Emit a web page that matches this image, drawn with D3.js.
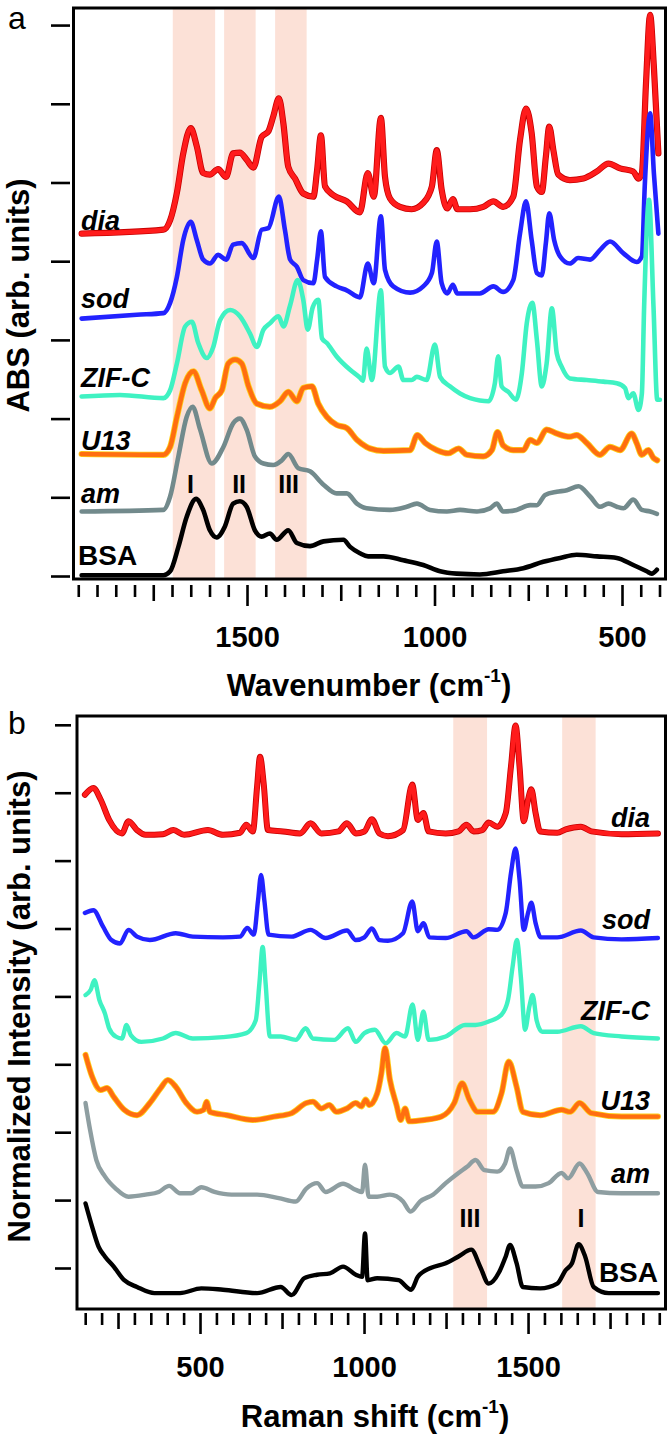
<!DOCTYPE html>
<html><head><meta charset="utf-8">
<script src="https://cdn.jsdelivr.net/npm/d3@7"></script>
<style>
body{margin:0;background:#fff}
svg{display:block}
text{font-family:"Liberation Sans",Arial,Helvetica,sans-serif}
</style>
</head><body>
<svg id="c" width="672" height="1437"></svg>
<script>
// ---------------- DATA: panel a (IR absorbance, offset stacked) ----------------
const irSeriesNames = ["dia", "sod", "ZIF-C", "U13", "am", "BSA"];
const irDia = [[1941,4.35],[1723,4.40],[1705,4.52],[1687,4.87],[1670,5.37],[1650,5.69],[1634,5.46],[1617,5.12],[1599,5.10],[1577,5.17],[1556,5.07],[1537,5.37],[1519,5.38],[1501,5.29],[1483,5.19],[1461,5.58],[1443,5.65],[1430,5.84],[1415,6.07],[1403,5.75],[1390,5.20],[1372,5.05],[1350,4.86],[1323,4.82],[1313,5.16],[1303,5.60],[1292,4.95],[1270,4.84],[1234,4.76],[1199,4.62],[1178,5.12],[1162,4.82],[1143,5.82],[1132,5.07],[1119,4.80],[1092,4.69],[1061,4.66],[1030,4.74],[1007,4.95],[994,5.41],[981,4.91],[966,4.67],[951,4.79],[939,4.66],[905,4.66],[870,4.69],[843,4.76],[817,4.69],[790,4.82],[772,5.54],[756,5.94],[741,5.63],[727,4.95],[714,4.88],[703,5.33],[694,5.71],[683,5.41],[670,5.10],[639,5.03],[603,5.05],[567,5.14],[536,5.24],[505,5.18],[470,5.14],[456,5.05],[447,5.12],[436,6.26],[425,7.13],[415,6.47],[403,5.37]];
const irSod = [[1941,3.27],[1794,3.32],[1723,3.34],[1705,3.47],[1687,3.80],[1670,4.27],[1650,4.50],[1634,4.27],[1617,4.02],[1599,3.97],[1577,4.08],[1556,4.02],[1537,4.21],[1514,4.23],[1483,4.04],[1461,4.40],[1443,4.42],[1415,4.82],[1399,4.40],[1385,4.02],[1367,3.93],[1350,3.76],[1323,3.72],[1313,4.02],[1303,4.38],[1292,3.80],[1261,3.68],[1234,3.63],[1199,3.54],[1178,3.97],[1162,3.72],[1143,4.57],[1132,3.89],[1110,3.68],[1065,3.60],[1030,3.68],[1007,3.85],[994,4.25],[981,3.72],[966,3.59],[951,3.70],[939,3.59],[879,3.59],[843,3.68],[817,3.61],[790,3.76],[772,4.35],[756,4.76],[741,4.27],[727,3.85],[714,3.82],[703,4.23],[694,4.61],[681,4.27],[665,4.06],[639,3.97],[617,4.04],[585,4.02],[559,4.14],[532,4.25],[496,4.10],[461,3.99],[447,4.06],[439,4.99],[425,5.88],[415,5.12],[403,4.35]];
const irZif = [[1941,2.28],[1839,2.30],[1723,2.26],[1705,2.36],[1687,2.70],[1665,3.17],[1647,3.23],[1630,2.96],[1607,2.77],[1590,2.91],[1572,3.25],[1545,3.38],[1519,3.30],[1492,3.08],[1474,2.91],[1456,3.13],[1439,3.21],[1416,3.30],[1403,3.17],[1385,3.44],[1365,3.76],[1350,3.51],[1338,3.13],[1325,3.41],[1310,3.51],[1300,3.02],[1287,2.96],[1261,2.79],[1225,2.62],[1199,2.52],[1191,2.48],[1181,2.89],[1167,2.49],[1143,3.63],[1132,2.66],[1119,2.58],[1096,2.66],[1083,2.49],[1061,2.49],[1047,2.53],[1021,2.49],[999,2.94],[985,2.53],[959,2.41],[932,2.32],[905,2.26],[879,2.23],[856,2.22],[839,2.45],[830,2.79],[821,2.41],[803,2.34],[783,2.24],[767,2.58],[754,3.21],[739,3.47],[727,3.00],[714,2.41],[701,2.70],[687,3.40],[674,2.83],[661,2.66],[639,2.51],[594,2.49],[550,2.47],[514,2.45],[492,2.39],[483,2.26],[470,2.32],[456,2.11],[447,2.32],[441,3.42],[428,4.78],[416,3.42],[406,2.24],[399,2.24]];
const irU13 = [[1941,1.55],[1723,1.54],[1705,1.64],[1687,2.02],[1665,2.45],[1643,2.60],[1621,2.36],[1599,2.13],[1585,2.26],[1567,2.36],[1550,2.70],[1532,2.75],[1514,2.70],[1496,2.41],[1474,2.19],[1439,2.15],[1412,2.22],[1390,2.34],[1367,2.22],[1350,2.39],[1327,2.41],[1310,2.19],[1287,2.02],[1261,1.92],[1234,1.88],[1207,1.73],[1181,1.64],[1172,1.62],[1136,1.59],[1065,1.60],[1046,1.79],[1025,1.69],[994,1.60],[963,1.56],[936,1.62],[914,1.54],[870,1.52],[847,1.60],[832,1.83],[817,1.66],[790,1.60],[763,1.60],[745,1.73],[727,1.69],[701,1.86],[674,1.81],[639,1.77],[621,1.79],[594,1.69],[559,1.54],[532,1.64],[505,1.60],[474,1.81],[461,1.69],[447,1.54],[430,1.60],[416,1.50],[406,1.47]];
const irAm = [[1941,0.82],[1723,0.84],[1705,1.01],[1683,1.52],[1661,2.02],[1645,2.15],[1625,1.86],[1594,1.43],[1563,1.64],[1537,1.94],[1519,2.00],[1501,1.86],[1479,1.52],[1456,1.43],[1430,1.41],[1407,1.47],[1390,1.55],[1363,1.37],[1332,1.33],[1296,1.16],[1261,1.05],[1234,1.05],[1207,0.92],[1181,0.86],[1119,0.84],[1074,0.88],[1047,0.92],[1012,0.84],[967,0.82],[932,0.84],[887,0.82],[852,0.86],[834,0.92],[817,0.82],[781,0.84],[745,0.90],[727,0.90],[705,1.03],[674,1.07],[647,1.09],[616,1.14],[585,1.01],[559,0.88],[536,0.92],[514,0.88],[496,0.86],[470,0.97],[447,0.84],[425,0.82],[407,0.79]];
const irBsa = [[1941,0.01],[1723,0.01],[1705,0.06],[1683,0.37],[1661,0.75],[1636,0.98],[1617,0.84],[1599,0.58],[1581,0.49],[1559,0.63],[1537,0.92],[1519,0.95],[1501,0.88],[1479,0.58],[1461,0.50],[1439,0.54],[1421,0.46],[1390,0.58],[1367,0.42],[1332,0.38],[1296,0.44],[1243,0.46],[1225,0.37],[1199,0.29],[1177,0.25],[1136,0.25],[1083,0.20],[1030,0.14],[985,0.06],[941,0.03],[879,0.02],[817,0.06],[763,0.10],[710,0.18],[665,0.23],[621,0.27],[567,0.25],[514,0.23],[470,0.14],[434,0.06],[421,0.03],[407,0.08]];
const irBands = [[1698,1585],[1561,1477],[1425,1341]];
const irBandLabels = [["I",1651],["II",1521],["III",1389]];
const irTickLabels = [1500, 1000, 500];

// ---------------- DATA: panel b (Raman, normalized, offset stacked) ----------------
const rmDia = [[149,6.97],[175,7.07],[197,6.90],[223,6.60],[262,6.40],[282,6.58],[308,6.45],[334,6.38],[387,6.39],[419,6.45],[452,6.38],[524,6.45],[570,6.38],[622,6.41],[641,6.53],[661,6.43],[674,7.09],[683,7.53],[694,7.14],[707,6.45],[753,6.43],[805,6.40],[837,6.55],[870,6.40],[922,6.43],[948,6.55],[975,6.40],[1001,6.43],[1024,6.61],[1047,6.40],[1073,6.36],[1119,6.45],[1147,7.12],[1164,6.60],[1181,6.70],[1197,6.43],[1249,6.40],[1288,6.43],[1312,6.53],[1334,6.43],[1360,6.45],[1380,6.56],[1406,6.50],[1432,6.70],[1448,7.39],[1462,7.99],[1474,7.39],[1487,6.58],[1500,6.90],[1510,7.05],[1523,6.70],[1537,6.43],[1589,6.41],[1615,6.46],[1661,6.50],[1693,6.43],[1785,6.39],[1896,6.40]];
const rmSod = [[149,5.23],[175,5.27],[204,5.03],[230,4.83],[256,4.78],[282,4.98],[308,4.88],[347,4.83],[426,4.93],[478,4.88],[570,4.87],[622,4.88],[644,5.01],[664,4.91],[677,5.42],[686,5.79],[696,5.42],[709,4.91],[779,4.88],[837,4.98],[883,4.86],[948,4.97],[975,4.83],[1001,4.87],[1024,5.00],[1047,4.83],[1073,4.82],[1119,4.93],[1147,5.40],[1164,4.96],[1181,5.08],[1199,4.87],[1249,4.86],[1312,4.96],[1334,4.87],[1380,4.99],[1406,4.98],[1432,5.23],[1448,5.82],[1462,6.18],[1474,5.72],[1487,4.98],[1500,5.23],[1510,5.38],[1523,5.08],[1539,4.87],[1589,4.87],[1661,4.97],[1700,4.87],[1785,4.84],[1896,4.86]];
const rmZif = [[151,4.02],[167,4.10],[178,4.24],[193,3.95],[210,3.75],[223,3.53],[243,3.41],[262,3.38],[276,3.58],[289,3.43],[321,3.33],[387,3.38],[426,3.46],[478,3.38],[570,3.40],[641,3.46],[670,3.65],[681,4.19],[691,4.73],[700,4.19],[713,3.41],[746,3.41],[792,3.36],[822,3.53],[844,3.38],[909,3.36],[951,3.53],[975,3.33],[1001,3.46],[1033,3.51],[1066,3.31],[1099,3.46],[1125,3.41],[1148,3.88],[1164,3.36],[1181,3.78],[1197,3.36],[1249,3.41],[1308,3.58],[1340,3.58],[1380,3.63],[1419,3.73],[1439,3.95],[1453,4.44],[1466,4.83],[1478,4.29],[1491,3.51],[1504,3.85],[1514,4.02],[1526,3.65],[1543,3.48],[1589,3.48],[1661,3.56],[1700,3.46],[1785,3.41],[1896,3.38]];
const rmU13 = [[151,3.14],[171,2.82],[197,2.62],[217,2.65],[237,2.52],[269,2.33],[308,2.25],[347,2.43],[380,2.65],[402,2.77],[426,2.67],[458,2.43],[491,2.30],[511,2.33],[520,2.45],[530,2.30],[583,2.25],[661,2.18],[726,2.23],[779,2.28],[824,2.43],[844,2.45],[870,2.35],[894,2.40],[916,2.30],[948,2.35],[975,2.43],[992,2.38],[1005,2.48],[1016,2.40],[1040,2.57],[1053,2.87],[1064,3.24],[1079,2.77],[1099,2.40],[1112,2.18],[1125,2.35],[1138,2.16],[1184,2.18],[1236,2.23],[1275,2.43],[1299,2.72],[1321,2.48],[1347,2.30],[1393,2.30],[1419,2.57],[1441,3.04],[1465,2.67],[1484,2.30],[1537,2.25],[1602,2.33],[1628,2.30],[1657,2.43],[1693,2.28],[1785,2.23],[1896,2.23]];
const rmAm = [[151,2.43],[165,2.03],[184,1.59],[210,1.35],[243,1.17],[282,1.05],[334,1.08],[374,1.12],[406,1.21],[439,1.10],[472,1.10],[504,1.19],[544,1.12],[596,1.08],[674,1.08],[740,1.03],[792,0.98],[824,1.17],[857,1.25],[883,1.12],[936,1.24],[975,1.15],[994,1.12],[1003,1.52],[1014,1.05],[1040,1.05],[1079,1.08],[1119,0.98],[1142,0.83],[1171,0.98],[1210,1.08],[1249,1.25],[1288,1.40],[1314,1.49],[1340,1.59],[1367,1.44],[1406,1.42],[1430,1.54],[1445,1.76],[1465,1.44],[1484,1.20],[1523,1.20],[1563,1.25],[1602,1.40],[1622,1.32],[1657,1.54],[1680,1.40],[1713,1.12],[1785,1.10],[1896,1.10]];
const rmBsa = [[151,0.95],[171,0.61],[191,0.31],[210,0.17],[237,0.02],[269,-0.18],[308,-0.28],[361,-0.37],[439,-0.37],[504,-0.30],[570,-0.32],[674,-0.37],[746,-0.28],[779,-0.40],[818,-0.15],[857,-0.10],[896,-0.08],[936,0.02],[975,-0.10],[994,-0.13],[1003,0.51],[1011,-0.18],[1040,-0.15],[1105,-0.18],[1144,-0.32],[1164,-0.13],[1203,0.00],[1249,0.07],[1288,0.17],[1327,0.27],[1354,0.02],[1380,-0.23],[1412,-0.06],[1432,0.17],[1445,0.34],[1465,0.07],[1484,-0.28],[1537,-0.30],[1589,-0.23],[1615,-0.03],[1634,0.07],[1654,0.35],[1674,0.17],[1700,-0.28],[1746,-0.37],[1824,-0.37],[1896,-0.37]];
const rmBands = [[1272,1375],[1604,1706]];
const rmBandLabels = [["III",1323],["I",1661]];
const rmTickLabels = [500, 1000, 1500];

// series label anchor values (value where label baseline sits)
const irLabelY = [4.4, 3.4, 2.4, 1.6, 0.93, 0.14];
const rmLabelY = [6.5, 5.0, 3.65, 2.33, 1.25, -0.2];

// ---------------- STYLE ----------------
const colors = ["#ff1c1c", "#2222ff", "#3ff2c2", "#ff6e10", null, "#000000"];
const outline = ["#c80000", null, null, "#ffcf1a", null, null];
const greyA = "#728a8c", greyB = "#8e9ea1";
const bandFill = "#fce1d7";

const svg = d3.select("#c");

function drawPanel(cfg) {
  const x = d3.scaleLinear().domain(cfg.xDomain).range([cfg.left, cfg.right]);
  const y = d3.scaleLinear().domain(cfg.yDomain).range([cfg.bottom, cfg.top]);
  const g = svg.append("g");

  // bands
  g.selectAll("rect.band").data(cfg.bands).enter().append("rect")
    .attr("x", d => Math.min(x(d[0]), x(d[1])))
    .attr("width", d => Math.abs(x(d[1]) - x(d[0])))
    .attr("y", cfg.top).attr("height", cfg.bottom - cfg.top)
    .attr("fill", bandFill);

  const line = d3.line().x(d => x(d[0])).y(d => y(d[1])).curve(d3.curveMonotoneX);

  cfg.series.forEach((s, i) => {
    const data = s.slice().sort((a, b) => x(a[0]) - x(b[0]));
    if (outline[i]) {
      g.append("path").attr("d", line(data)).attr("fill", "none")
        .attr("stroke", outline[i]).attr("stroke-width", cfg.lw + 1.6)
        .attr("stroke-linejoin", "round").attr("stroke-linecap", "round");
    }
    g.append("path").attr("d", line(data)).attr("fill", "none")
      .attr("stroke", i === 4 ? cfg.grey : colors[i]).attr("stroke-width", cfg.lw)
      .attr("stroke-linejoin", "round").attr("stroke-linecap", "round");
  });

  // frame
  g.append("rect").attr("x", cfg.left).attr("y", cfg.top)
    .attr("width", cfg.right - cfg.left).attr("height", cfg.bottom - cfg.top)
    .attr("fill", "none").attr("stroke", "#000").attr("stroke-width", 3);

  // x ticks
  const lo = Math.min(...cfg.tickRange), hi = Math.max(...cfg.tickRange);
  const all = d3.range(lo, hi + 1, 50);
  const minor = all.filter(v => v % 250 !== 0);
  const medium = all.filter(v => v % 250 === 0 && v % 500 !== 0);
  const major = all.filter(v => v % 500 === 0);
  const ax0 = cfg.bottom + cfg.tickGap;
  [[minor, 12], [medium, 16], [major, 21]].forEach(([vals, len]) => {
    const a = g.append("g").attr("transform", `translate(0,${ax0})`)
      .call(d3.axisBottom(x).tickValues(vals).tickSize(len).tickFormat(""));
    a.select(".domain").remove();
    a.selectAll("line").attr("stroke", "#000").attr("stroke-width", 2.6);
  });
  const lab = g.append("g").attr("transform", `translate(0,${ax0})`)
    .call(d3.axisBottom(x).tickValues(cfg.tickLabels).tickSize(0).tickFormat(d3.format("d")));
  lab.select(".domain").remove();
  lab.selectAll("text").attr("y", cfg.labelDy).attr("dy", 0)
    .attr("fill", "#000").attr("font-size", 29).attr("font-weight", "bold")
    .attr("font-family", '"Liberation Sans",Arial,sans-serif');

  // y ticks
  const yt = g.append("g").attr("transform", `translate(${cfg.left - cfg.yGap},0)`)
    .call(d3.axisLeft(y).tickValues(cfg.yTicks).tickSize(cfg.yTickLen).tickFormat(""));
  yt.select(".domain").remove();
  yt.selectAll("line").attr("stroke", "#000").attr("stroke-width", 2.6);

  // band labels
  g.selectAll("text.bl").data(cfg.bandLabels).enter().append("text")
    .attr("x", d => x(d[1])).attr("y", y(cfg.bandLabelY))
    .attr("text-anchor", "middle").attr("font-size", 25).attr("font-weight", "bold")
    .text(d => d[0]);

  // series labels
  irSeriesNames.forEach((n, i) => {
    g.append("text")
      .attr("x", cfg.seriesLabelX(i)).attr("y", y(cfg.labelY[i]))
      .attr("text-anchor", cfg.anchor)
      .attr("font-size", n === "BSA" ? 28 : 27).attr("font-weight", "bold")
      .attr("font-style", n === "BSA" ? "normal" : "italic")
      .text(n);
  });

  // x title
  const xt = g.append("text").attr("x", cfg.xTitleX).attr("y", cfg.bottom + cfg.xTitleDy)
    .attr("text-anchor", "middle").attr("font-size", 31).attr("font-weight", "bold");
  xt.append("tspan").text(cfg.xTitle + " (cm");
  xt.append("tspan").attr("font-size", 19).attr("dy", -14).text("-1");
  xt.append("tspan").attr("dy", 14).text(")");

  // y title
  g.append("text").attr("transform", `translate(${cfg.yTitleX},${(cfg.top + cfg.bottom) / 2 + cfg.yTitleShift}) rotate(-90)`)
    .attr("text-anchor", "middle").attr("font-size", 31).attr("font-weight", "bold")
    .text(cfg.yTitle);

  // panel letter
  g.append("text").attr("x", 8).attr("y", cfg.top + cfg.letterDy)
    .attr("font-size", 32).text(cfg.letter);
}

drawPanel({
  left: 73.5, right: 665.5, top: 8, bottom: 579,
  xDomain: [1962.7, 384], yDomain: [-0.038, 7.217],
  series: [irDia, irSod, irZif, irU13, irAm, irBsa],
  bands: irBands, bandLabels: irBandLabels, bandLabelY: 1.05,
  tickRange: [400, 1950], tickLabels: irTickLabels, tickGap: 6, labelDy: 62,
  yTicks: d3.range(0, 8), yGap: 3.5, yTickLen: 19,
  grey: greyA, lw: 4.6,
  labelY: irLabelY, anchor: "start",
  seriesLabelX: i => (i === 5 ? 78 : 81),
  xTitle: "Wavenumber", xTitleX: 369, xTitleDy: 117,
  yTitle: "ABS (arb. units)", yTitleX: 29, yTitleShift: 2,
  letter: "a", letterDy: 21
});

drawPanel({
  left: 77, right: 665.5, top: 716, bottom: 1309,
  xDomain: [125, 1919], yDomain: [-0.604, 8.13],
  series: [rmDia, rmSod, rmZif, rmU13, rmAm, rmBsa],
  bands: rmBands, bandLabels: rmBandLabels, bandLabelY: 0.6,
  tickRange: [150, 1900], tickLabels: rmTickLabels, tickGap: 4, labelDy: 64,
  yTicks: d3.range(0, 9), yGap: 6, yTickLen: 16,
  grey: greyB, lw: 4.4,
  labelY: rmLabelY, anchor: "end",
  seriesLabelX: i => (i === 5 ? 658 : 650),
  xTitle: "Raman shift", xTitleX: 375, xTitleDy: 118,
  yTitle: "Normalized Intensity (arb. units)", yTitleX: 30, yTitleShift: -6,
  letter: "b", letterDy: 18
});
</script>
</body></html>
